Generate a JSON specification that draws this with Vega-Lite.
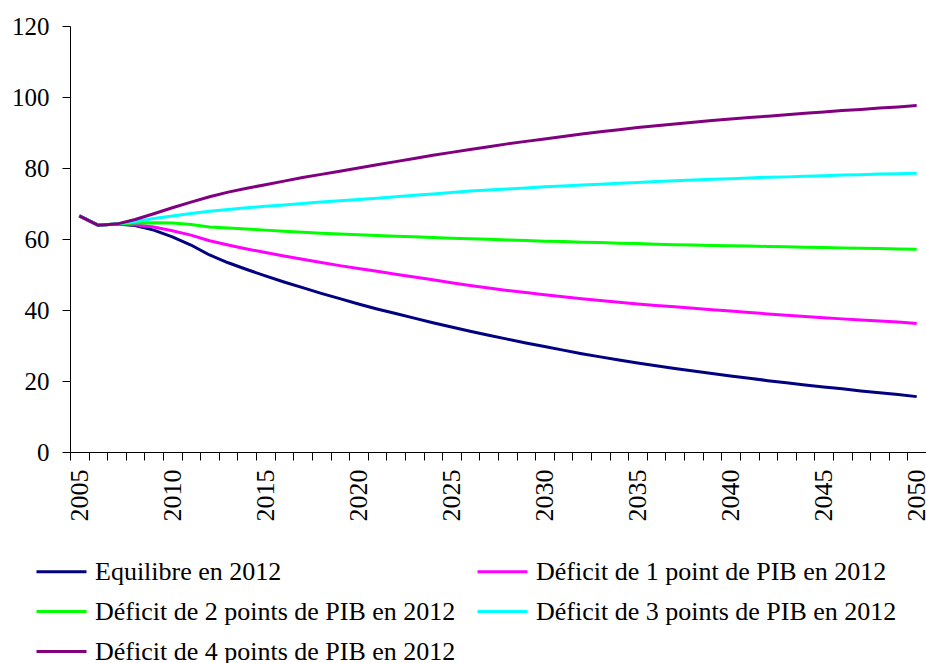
{
  "$schema": "https://vega.github.io/schema/vega-lite/v6.json",
  "width": 856,
  "height": 426,
  "autosize": "none",
  "padding": {"left": 70, "top": 26, "right": 0, "bottom": 211},
  "background": "white",
  "config": {"view": {"stroke": null}, "font": "'Liberation Serif', serif"},
  "datasets": {
    "wide": [
      {"year": 2005, "E": 66.5, "D1": 66.5, "D2": 66.5, "D3": 66.5, "D4": 66.5},
      {"year": 2006, "E": 63.9, "D1": 63.9, "D2": 63.9, "D3": 63.9, "D4": 63.9},
      {"year": 2007, "E": 64.2, "D1": 64.2, "D2": 64.2, "D3": 64.2, "D4": 64.2},
      {"year": 2008, "E": 63.8, "D1": 64.0, "D2": 64.5, "D3": 64.9, "D4": 65.5},
      {"year": 2009, "E": 62.5, "D1": 63.4, "D2": 64.6, "D3": 65.8, "D4": 67.1},
      {"year": 2010, "E": 60.6, "D1": 62.3, "D2": 64.5, "D3": 66.5, "D4": 68.8},
      {"year": 2011, "E": 58.3, "D1": 61.1, "D2": 64.1, "D3": 67.2, "D4": 70.4},
      {"year": 2012, "E": 55.5, "D1": 59.5, "D2": 63.4, "D3": 67.8, "D4": 71.9},
      {"year": 2013, "E": 53.3, "D1": 58.3, "D2": 63.1, "D3": 68.3, "D4": 73.2},
      {"year": 2014, "E": 51.4, "D1": 57.2, "D2": 62.8, "D3": 68.8, "D4": 74.3},
      {"year": 2015, "E": 49.6, "D1": 56.2, "D2": 62.5, "D3": 69.2, "D4": 75.3},
      {"year": 2016, "E": 47.9, "D1": 55.2, "D2": 62.2, "D3": 69.6, "D4": 76.3},
      {"year": 2017, "E": 46.3, "D1": 54.3, "D2": 61.9, "D3": 70.0, "D4": 77.3},
      {"year": 2018, "E": 44.7, "D1": 53.4, "D2": 61.6, "D3": 70.4, "D4": 78.2},
      {"year": 2019, "E": 43.2, "D1": 52.5, "D2": 61.4, "D3": 70.8, "D4": 79.1},
      {"year": 2020, "E": 41.7, "D1": 51.7, "D2": 61.2, "D3": 71.1, "D4": 80.0},
      {"year": 2021, "E": 40.3, "D1": 50.9, "D2": 61.0, "D3": 71.5, "D4": 80.9},
      {"year": 2022, "E": 39.0, "D1": 50.1, "D2": 60.8, "D3": 71.9, "D4": 81.8},
      {"year": 2023, "E": 37.7, "D1": 49.3, "D2": 60.6, "D3": 72.3, "D4": 82.7},
      {"year": 2024, "E": 36.4, "D1": 48.5, "D2": 60.4, "D3": 72.7, "D4": 83.6},
      {"year": 2025, "E": 35.2, "D1": 47.7, "D2": 60.2, "D3": 73.1, "D4": 84.4},
      {"year": 2026, "E": 34.0, "D1": 46.9, "D2": 60.1, "D3": 73.5, "D4": 85.2},
      {"year": 2027, "E": 32.9, "D1": 46.2, "D2": 59.9, "D3": 73.8, "D4": 86.0},
      {"year": 2028, "E": 31.8, "D1": 45.5, "D2": 59.7, "D3": 74.1, "D4": 86.8},
      {"year": 2029, "E": 30.7, "D1": 44.9, "D2": 59.6, "D3": 74.4, "D4": 87.5},
      {"year": 2030, "E": 29.7, "D1": 44.3, "D2": 59.4, "D3": 74.7, "D4": 88.2},
      {"year": 2031, "E": 28.7, "D1": 43.7, "D2": 59.3, "D3": 74.9, "D4": 88.9},
      {"year": 2032, "E": 27.7, "D1": 43.2, "D2": 59.1, "D3": 75.2, "D4": 89.6},
      {"year": 2033, "E": 26.8, "D1": 42.7, "D2": 59.0, "D3": 75.4, "D4": 90.2},
      {"year": 2034, "E": 25.9, "D1": 42.2, "D2": 58.8, "D3": 75.7, "D4": 90.8},
      {"year": 2035, "E": 25.1, "D1": 41.7, "D2": 58.7, "D3": 75.9, "D4": 91.4},
      {"year": 2036, "E": 24.3, "D1": 41.3, "D2": 58.5, "D3": 76.2, "D4": 91.9},
      {"year": 2037, "E": 23.5, "D1": 40.9, "D2": 58.4, "D3": 76.4, "D4": 92.4},
      {"year": 2038, "E": 22.8, "D1": 40.5, "D2": 58.3, "D3": 76.6, "D4": 92.9},
      {"year": 2039, "E": 22.1, "D1": 40.1, "D2": 58.2, "D3": 76.8, "D4": 93.4},
      {"year": 2040, "E": 21.4, "D1": 39.7, "D2": 58.1, "D3": 77.0, "D4": 93.8},
      {"year": 2041, "E": 20.8, "D1": 39.3, "D2": 58.0, "D3": 77.2, "D4": 94.2},
      {"year": 2042, "E": 20.1, "D1": 38.9, "D2": 57.9, "D3": 77.4, "D4": 94.6},
      {"year": 2043, "E": 19.5, "D1": 38.5, "D2": 57.8, "D3": 77.5, "D4": 95.0},
      {"year": 2044, "E": 18.9, "D1": 38.2, "D2": 57.7, "D3": 77.7, "D4": 95.4},
      {"year": 2045, "E": 18.3, "D1": 37.8, "D2": 57.6, "D3": 77.8, "D4": 95.8},
      {"year": 2046, "E": 17.8, "D1": 37.5, "D2": 57.5, "D3": 78.0, "D4": 96.2},
      {"year": 2047, "E": 17.2, "D1": 37.2, "D2": 57.4, "D3": 78.1, "D4": 96.5},
      {"year": 2048, "E": 16.7, "D1": 36.9, "D2": 57.3, "D3": 78.3, "D4": 96.9},
      {"year": 2049, "E": 16.2, "D1": 36.6, "D2": 57.2, "D3": 78.4, "D4": 97.2},
      {"year": 2050, "E": 15.6, "D1": 36.2, "D2": 57.1, "D3": 78.5, "D4": 97.6}
    ]
  },
  "data": {"name": "wide"},
  "transform": [
    {"fold": ["E", "D1", "D2", "D3", "D4"], "as": ["serie", "value"]}
  ],
  "mark": {"type": "line", "strokeWidth": 3, "strokeJoin": "round"},
  "encoding": {
    "x": {
      "field": "year",
      "type": "ordinal",
      "bandPosition": 0.5,
      "scale": {"type": "band", "paddingInner": 0, "paddingOuter": 0},
      "axis": {
        "title": null,
        "tickBand": "extent",
        "labelAngle": 270,
        "labelAlign": "right",
        "labelBaseline": "middle",
        "labelExpr": "datum.value % 5 == 0 ? datum.label : ''",
        "labelOverlap": false,
        "labelFont": "'Liberation Serif', serif",
        "labelFontSize": 26,
        "labelColor": "black",
        "labelPadding": 9,
        "tickSize": 8,
        "tickColor": "black",
        "domainColor": "black",
        "grid": false
      }
    },
    "y": {
      "field": "value",
      "type": "quantitative",
      "scale": {"domain": [0, 120], "nice": false, "zero": true},
      "axis": {
        "title": null,
        "values": [0, 20, 40, 60, 80, 100, 120],
        "labelFont": "'Liberation Serif', serif",
        "labelFontSize": 25,
        "labelColor": "black",
        "labelPadding": 13,
        "tickSize": 8,
        "tickColor": "black",
        "domainColor": "black",
        "grid": false
      }
    },
    "color": {
      "field": "serie",
      "type": "nominal",
      "scale": {
        "domain": ["E", "D1", "D2", "D3", "D4"],
        "range": ["#000080", "#FF00FF", "#00FF00", "#00FFFF", "#800080"]
      },
      "legend": {
        "title": null,
        "orient": "none",
        "legendX": -35,
        "legendY": 519,
        "columns": 2,
        "direction": "horizontal",
        "columnPadding": 15,
        "rowPadding": -12,
        "symbolType": "stroke",
        "symbolSize": 2500,
        "symbolStrokeWidth": 3,
        "labelOffset": 7,
        "labelLimit": 600,
        "labelFont": "'Liberation Serif', serif",
        "labelFontSize": 26,
        "labelColor": "black",
        "labelExpr": "{'E': 'Equilibre en 2012', 'D1': 'Déficit de 1 point de PIB en 2012', 'D2': 'Déficit de 2 points de PIB en 2012', 'D3': 'Déficit de 3 points de PIB en 2012', 'D4': 'Déficit de 4 points de PIB en 2012'}[datum.value]"
      }
    }
  }
}
